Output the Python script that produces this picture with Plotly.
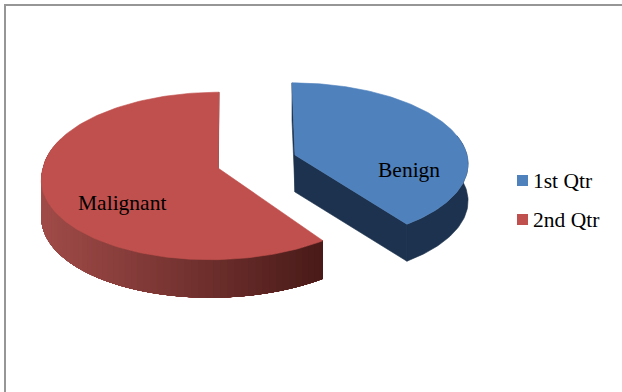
import numpy as np
import plotly.graph_objects as go

# Chart data
series_names = ["1st Qtr", "2nd Qtr"]
slice_labels = ["Benign", "Malignant"]
slice_values = [40, 60]

BLUE = "#4F81BD"
BLUE_DARK = "#1D324E"
RED = "#C0504D"
RED_LEFT = (160, 75, 72)
RED_RIGHT = (72, 26, 24)
BORDER = "#969696"
FONT = "Liberation Serif"

W, H = 622, 392
K = 0.095  # perspective strength of the tilted disc

# Pixel placement of each exploded slice: apex, radii, depth,
# lean of the far half and skew of the near half (camera offset)
BLUE_GEOM = dict(cx=295, cy=155, rx=172, ry=79, depth=37, lean=3, skew=3)
RED_GEOM = dict(cx=218, cy=168, rx=175, ry=83, depth=38, lean=-1, skew=-8)


def project(theta, g, radius=1.0, lower=False):
    """Project a disc point (clockwise angle from 12 o'clock) to the screen."""
    X = radius * np.sin(theta)
    Y = -radius * np.cos(theta)
    s = 1 / (1 - K * Y)
    x = g["cx"] + g["rx"] * X * s + g["lean"] * np.minimum(Y, 0) + g["skew"] * np.maximum(Y, 0)
    y = g["cy"] + g["ry"] * Y * s + (g["depth"] if lower else 0)
    return x, y


def polygon(xs, ys, color, edge=0.6):
    return go.Scatter(
        x=list(xs), y=list(ys), mode="lines", fill="toself", fillcolor=color,
        line=dict(color=color, width=edge), hoverinfo="skip", showlegend=False,
    )


def wedge(a0, a1, g, lower=False, n=160):
    t = np.linspace(a0, a1, n)
    x, y = project(t, g, lower=lower)
    ax, ay = project(np.array([0.0]), g, radius=0.0, lower=lower)
    return np.r_[ax, x, ax], np.r_[ay, y, ay]


def wall(a0, a1, g, n=60):
    t = np.linspace(a0, a1, n)
    xt, yt = project(t, g)
    xb, yb = project(t, g, lower=True)
    return np.r_[xt, xb[::-1], xt[0]], np.r_[yt, yb[::-1], yt[0]]


def radial_wall(a, g):
    t = np.array([a])
    ox, oy = project(t, g)
    obx, oby = project(t, g, lower=True)
    ax, ay = project(t, g, radius=0.0)
    abx, aby = project(t, g, radius=0.0, lower=True)
    return [ax[0], ox[0], obx[0], abx[0], ax[0]], [ay[0], oy[0], oby[0], aby[0], ay[0]]


def lerp_color(x, x0, x1):
    f = float(np.clip((x - x0) / (x1 - x0), 0, 1))
    c = [round(a + (b - a) * f) for a, b in zip(RED_LEFT, RED_RIGHT)]
    return f"rgb({c[0]},{c[1]},{c[2]})"


fig = go.Figure()

# Frame of the chart area
fig.add_trace(go.Scatter(
    x=[5, 5, W], y=[H, 5, 5], mode="lines",
    line=dict(color=BORDER, width=2), hoverinfo="skip", showlegend=False,
))

# Slice angles follow the values, clockwise from 12 o'clock
split = 2 * np.pi * slice_values[0] / sum(slice_values)

# Red slice: back wall, shaded rim, top face.
# Each rim band runs on to the cut edge, so later bands overlap earlier ones without seams.
fig.add_trace(polygon(*radial_wall(2 * np.pi, RED_GEOM), "#7A2F2D"))
for a0 in np.linspace(1.62 * np.pi, split + 0.02, 70):
    xs, ys = wall(split, a0, RED_GEOM)
    x_left, _ = project(np.array([a0]), RED_GEOM)
    fig.add_trace(polygon(xs, ys, lerp_color(x_left[0], 42, 322), edge=0))
fig.add_trace(polygon(*wedge(split, 2 * np.pi, RED_GEOM), RED))

# Blue slice: dark walls, top face
fig.add_trace(polygon(*radial_wall(0.0, BLUE_GEOM), BLUE_DARK))
fig.add_trace(polygon(*radial_wall(split, BLUE_GEOM), BLUE_DARK))
fig.add_trace(polygon(*wall(0.42 * np.pi, split, BLUE_GEOM), BLUE_DARK))
fig.add_trace(polygon(*wedge(0.0, split, BLUE_GEOM), BLUE))

# Legend swatches
legend_y = [180.5, 219.5]
fig.add_trace(go.Scatter(
    x=[522.5, 522.5], y=legend_y, mode="markers",
    marker=dict(symbol="square", size=11, color=[BLUE, RED], line=dict(width=0)),
    hoverinfo="skip", showlegend=False,
))

notes = [dict(x=532, y=y, text=name, xanchor="left")
         for y, name in zip(legend_y, series_names)]
notes += [
    dict(x=409, y=170, text=slice_labels[0], xanchor="center"),
    dict(x=122, y=203, text=slice_labels[1], xanchor="center"),
]

fig.update_layout(
    width=W, height=H, margin=dict(l=0, r=0, t=0, b=0),
    paper_bgcolor="white", plot_bgcolor="white", showlegend=False,
    xaxis=dict(range=[0, W], visible=False, fixedrange=True),
    yaxis=dict(range=[H, 0], visible=False, fixedrange=True),
    annotations=[
        dict(xref="x", yref="y", yanchor="middle", showarrow=False, borderpad=0,
             font=dict(family=FONT, size=21.5, color="black"), **n)
        for n in notes
    ],
)

fig.write_html("out.html", config={"displayModeBar": False})
